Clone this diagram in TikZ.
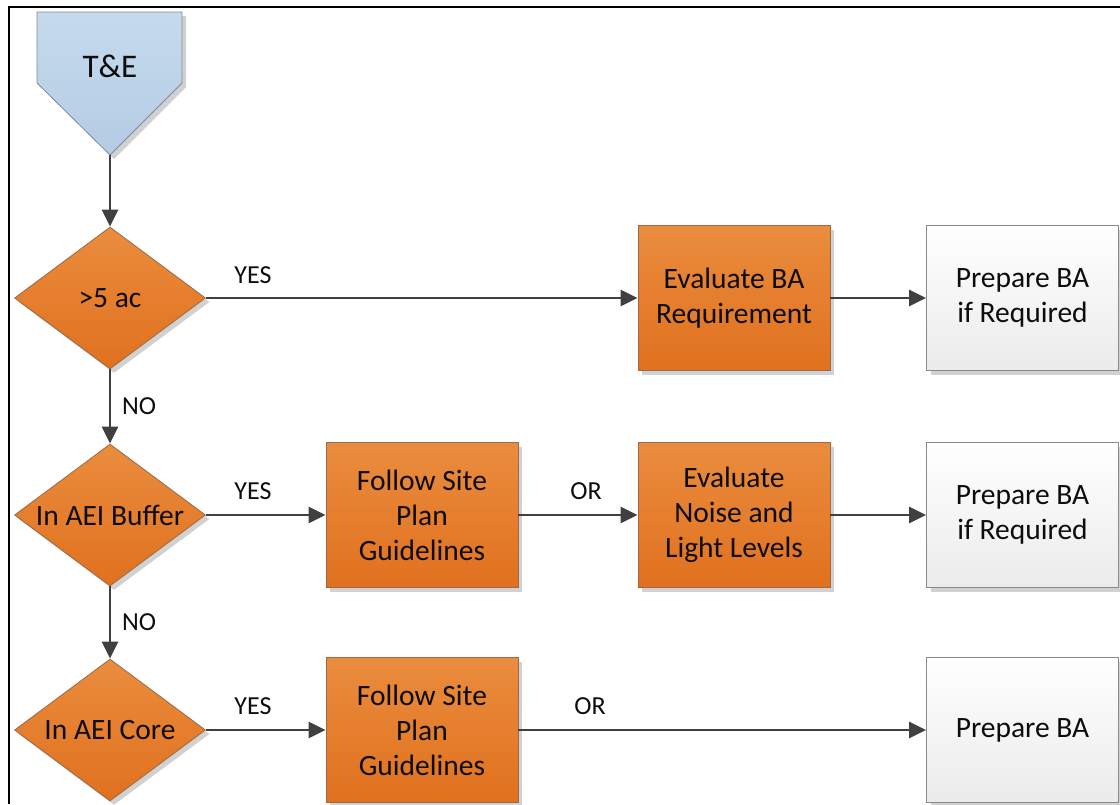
\documentclass[tikz,border=0pt]{standalone}
\usepackage{fontspec}
\setmainfont{Carlito}
\usetikzlibrary{shapes.geometric,arrows.meta,shadows}
\definecolor{orT}{HTML}{EA8C3E}
\definecolor{orB}{HTML}{E0711E}
\definecolor{orD}{HTML}{9A6A4A}
\definecolor{blT}{HTML}{C6DAEC}
\definecolor{blB}{HTML}{B3CCE4}
\definecolor{blD}{HTML}{7F8A96}
\definecolor{wtB}{HTML}{EBEBEB}
\definecolor{wtD}{HTML}{8A8A8A}
\definecolor{lnC}{HTML}{404040}
\definecolor{txC}{HTML}{0D0D0D}
\begin{document}
\begin{tikzpicture}[x=1pt,y=-1pt,
  shadowed/.style={drop shadow={shadow xshift=4pt, shadow yshift=-4pt, opacity=0.18, fill=black}},
  boxtext/.style={font=\fontsize{29.5}{35}\selectfont, text=txC, align=center},
  decision/.style={diamond, aspect=1.345, inner sep=0pt, minimum width=191pt, minimum height=142pt,
    top color=orT, bottom color=orB, draw=orD, line width=0.8pt, boxtext, shadowed},
  process/.style={rectangle, minimum width=192pt, minimum height=145pt, inner sep=0pt,
    top color=orT, bottom color=orB, draw=orD, line width=0.8pt, boxtext, shadowed},
  result/.style={process, top color=white, bottom color=wtB, draw=wtD},
  flow/.style={draw=lnC, line width=2.5pt, -{Triangle[length=17pt,width=16pt]}},
  lab/.style={font=\fontsize{26}{30}\selectfont, text=txC, inner sep=0pt, anchor=base}
]
\useasboundingbox (0,0) rectangle (1120,804);
% frame
\draw[line width=2.5pt, black] (9,804) -- (9,7) -- (1120,7);

% T&E pentagon
\path[top color=blT, bottom color=blB, draw=blD, line width=0.8pt, shadowed]
  (37,12) -- (182,12) -- (182,83) -- (110,155) -- (37,83) -- cycle;
\node[boxtext, font=\fontsize{33}{38}\selectfont, inner sep=0pt] (te) at (110,66) {T\&E};
\coordinate (tetip) at (110,155);

% decisions
\node[decision] (d1) at (110,298) {>5 ac};
\node[decision] (d2) at (110,515) {In AEI Buffer};
\node[decision] (d3) at (110,730) {In AEI Core};

% row 1
\node[process] (e1) at (734,298) {Evaluate BA\\Requirement};
\node[result]  (p1) at (1022.5,298) {Prepare BA\\if Required};
% row 2
\node[process] (f2) at (422,515) {Follow Site\\Plan\\Guidelines};
\node[process] (n2) at (734,515) {Evaluate\\Noise and\\Light Levels};
\node[result]  (p2) at (1022.5,515) {Prepare BA\\if Required};
% row 3
\node[process] (f3) at (422,730) {Follow Site\\Plan\\Guidelines};
\node[result]  (p3) at (1022.5,730) {Prepare BA};

% connectors
\draw[flow] (tetip) -- (d1.north);
\draw[flow] (d1.east) -- (e1.west);
\draw[flow] (e1.east) -- (p1.west);
\draw[flow] (d1.south) -- (d2.north);
\draw[flow] (d2.east) -- (f2.west);
\draw[flow] (f2.east) -- (n2.west);
\draw[flow] (n2.east) -- (p2.west);
\draw[flow] (d2.south) -- (d3.north);
\draw[flow] (d3.east) -- (f3.west);
\draw[flow] (f3.east) -- (p3.west);

% labels
\node[lab] (y1) at (253,283) {YES};
\node[lab] (no1) at (139,414) {NO};
\node[lab] (y2) at (253,499) {YES};
\node[lab] (or2) at (586,499) {OR};
\node[lab] (no2) at (139,630) {NO};
\node[lab] (y3) at (253,714) {YES};
\node[lab] (or3) at (590,714) {OR};
\end{tikzpicture}
\end{document}
